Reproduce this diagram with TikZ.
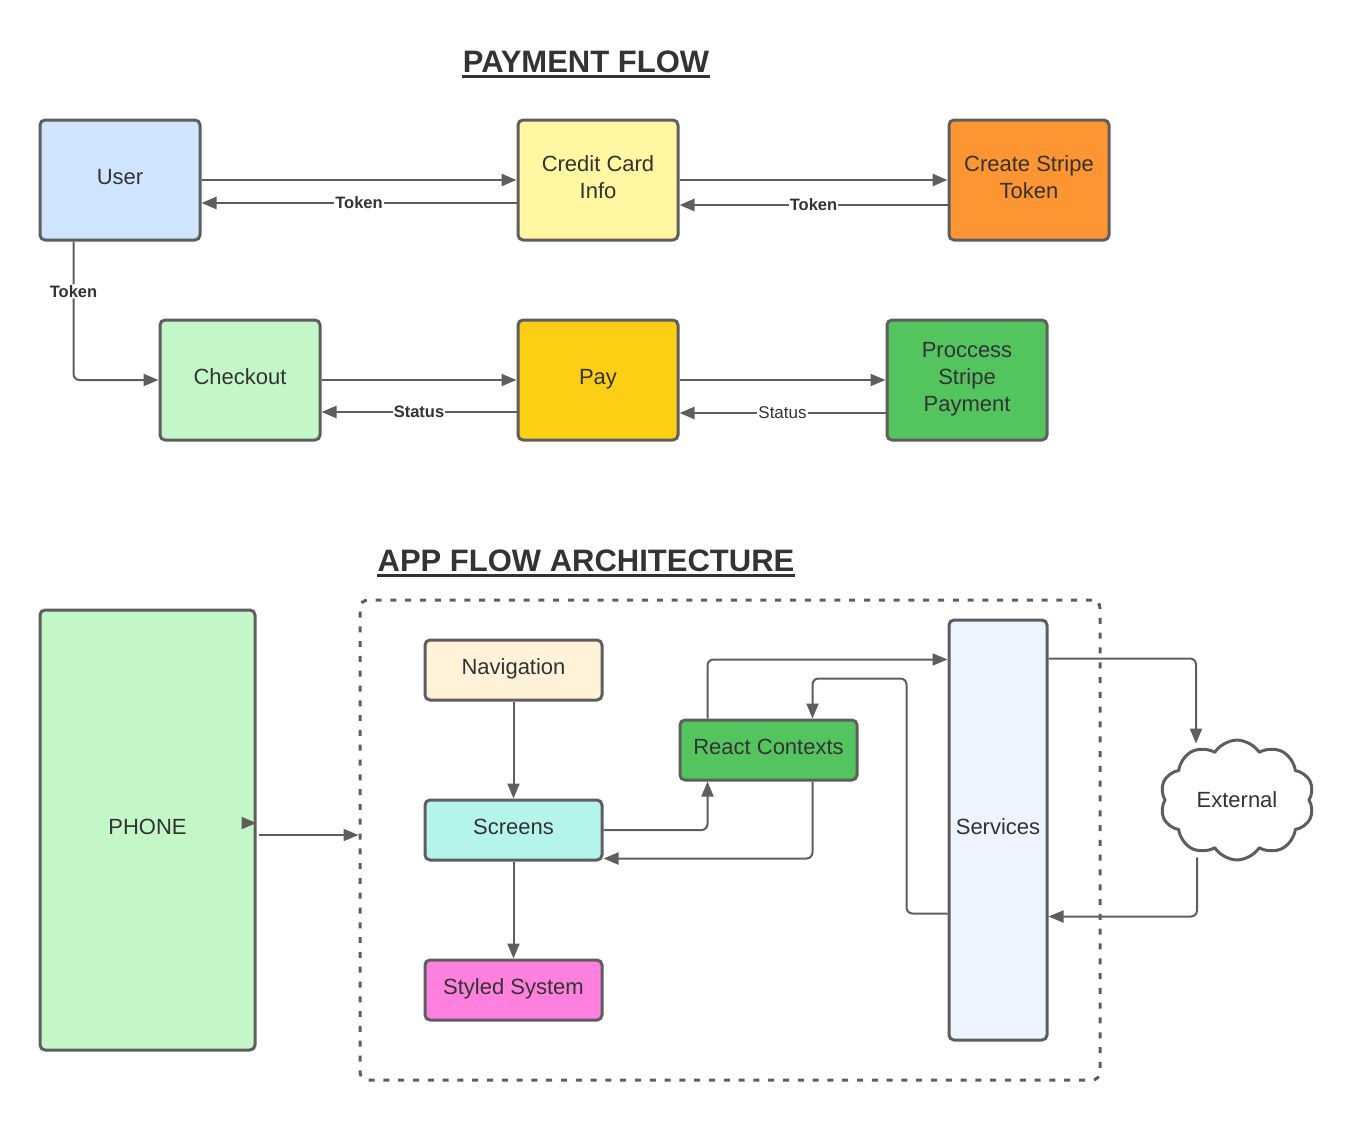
\documentclass[tikz,border=0pt]{standalone}
\usepackage{fontspec}
\setmainfont{Liberation Sans}
\usetikzlibrary{arrows.meta,shapes.symbols}
\definecolor{edge}{HTML}{5E5E5E}
\definecolor{ink}{HTML}{333333}
\definecolor{userblue}{HTML}{CFE4FF}
\definecolor{cardyellow}{HTML}{FFF7A1}
\definecolor{stripeorange}{HTML}{FC9532}
\definecolor{paleGreen}{HTML}{C3F7C8}
\definecolor{payyellow}{HTML}{FCCE14}
\definecolor{darkGreen}{HTML}{54C45E}
\definecolor{navcream}{HTML}{FFF2D9}
\definecolor{screenteal}{HTML}{B4F4EC}
\definecolor{styledpink}{HTML}{FF80DF}
\definecolor{servblue}{HTML}{EDF4FF}
\tikzset{
  box/.style={draw=edge, line width=1.5pt, rounded corners=2.5pt, minimum width=80pt, minimum height=60pt,
    inner sep=2pt, text depth=3pt, align=center, text=ink, font=\fontsize{11}{13.5}\selectfont},
  slim/.style={box, minimum width=88.5pt, minimum height=30pt},
  flow/.style={->, draw=edge, line width=1pt},
  lbl/.style={fill=white, inner sep=0.5pt, text=ink, font=\fontsize{8.25}{10}\selectfont\bfseries},
  plainlbl/.style={lbl, font=\fontsize{8.5}{10}\selectfont},
  heading/.style={inner sep=0pt, text=ink, font=\fontsize{15.5}{18}\selectfont\bfseries},
  underbar/.style={draw=ink, line width=1.5pt, line cap=butt}
}
\begin{document}
\begin{tikzpicture}[x=0.5pt, y=-0.5pt, >={Triangle[length=7.5pt,width=6pt]}, line join=round]
\useasboundingbox (0,0) rectangle (1365,1120);
% payment flow
\node[heading, anchor=base] (payhead) at (586,72) {PAYMENT FLOW};
\draw[underbar] ([yshift=-2pt]payhead.base west) -- ([yshift=-2pt]payhead.base east);
\node[box, fill=userblue] (user) at (120,180) {User};
\node[box, fill=cardyellow] (card) at (598,180) {Credit Card\\Info};
\node[box, fill=stripeorange] (token) at (1029,180) {Create Stripe\\Token};
\node[box, fill=paleGreen] (checkout) at (240,380) {Checkout};
\node[box, fill=payyellow] (pay) at (598,380) {Pay};
\node[box, fill=darkGreen] (process) at (967,380) {Proccess\\Stripe\\Payment};
\draw[flow, line width=1.4pt] (user.east) -- (card.west);
\draw[flow, line width=1.2pt] ([shift={(0,23)}]card.west) -- node[lbl] {Token} ([shift={(0,23)}]user.east);
\draw[flow, line width=1.4pt] (card.east) -- (token.west);
\draw[flow, line width=1.4pt] ([shift={(0,25)}]token.west) -- node[lbl] {Token} ([shift={(0,25)}]card.west -| card.east);
\draw[flow, rounded corners=3pt] ([shift={(35,0)}]user.south west) |- node[lbl, pos=0.18] {Token} (checkout.west);
\draw[flow] (checkout.east) -- (pay.west);
\draw[flow, line width=1.2pt] ([shift={(0,32)}]pay.west) -- node[lbl] {Status} ([shift={(0,32)}]checkout.east);
\draw[flow] (pay.east) -- (process.west);
\draw[flow, line width=1.2pt] ([shift={(0,33)}]process.west) -- node[plainlbl] {Status} ([shift={(0,33)}]pay.east);
% app flow architecture
\node[heading, anchor=base] (apphead) at (586,571) {APP FLOW ARCHITECTURE};
\draw[underbar] ([yshift=-2pt]apphead.base west) -- ([yshift=-2pt]apphead.base east);
\node[draw=edge, line width=1.5pt, dash pattern=on 3pt off 4.4pt, rounded corners=4pt,
  minimum width=370pt, minimum height=240pt] (arch) at (730,840) {};
\node[box, fill=paleGreen, minimum width=107.5pt, minimum height=220pt] (phone) at (147.5,830) {PHONE};
\node[slim, fill=navcream] (nav) at (513.5,670) {Navigation};
\node[slim, fill=screenteal] (screens) at (513.5,830) {Screens};
\node[slim, fill=styledpink] (styled) at (513.5,990) {Styled System};
\node[slim, fill=darkGreen] (react) at (768.5,750) {React Contexts};
\node[box, fill=servblue, minimum width=49pt, minimum height=210pt] (services) at (998,830) {Services};
\node[cloud, draw=edge, line width=1.5pt, fill=white, cloud puffs=10, cloud puff arc=115, aspect=1.3,
  minimum width=77pt, minimum height=59pt, text=ink, font=\fontsize{11}{13.5}\selectfont] (ext) at (1237,800) {External};
\draw[flow] ([shift={(-15,-7)}]phone.east) -- ([shift={(0,-7)}]phone.east);
\draw[flow] ([shift={(2,5)}]phone.east) -- ([shift={(0,-5)}]arch.west);
\draw[flow] (nav) -- (screens);
\draw[flow] (screens) -- (styled);
\draw[flow, rounded corners=3pt] (screens.east) -| ([shift={(29,0)}]react.south west);
\draw[flow, rounded corners=3pt] ([shift={(-46,0)}]react.south east) |- ([shift={(0,-3)}]screens.south east);
\draw[flow, rounded corners=3pt] ([shift={(29,0)}]react.north west) |- ([shift={(0,41)}]services.north west);
\draw[flow, rounded corners=3pt] ([shift={(0,295)}]services.north west) -- ++(-41,0) -- ++(0,-235)
  -| ([shift={(-46,0)}]react.north east);
\draw[flow, rounded corners=3pt] ([shift={(0,40)}]services.north east) -| ([shift={(-41,5)}]ext.north);
\draw[flow, rounded corners=3pt] ([shift={(-40,-4)}]ext.south) |- ([shift={(0,298)}]services.north east);
\end{tikzpicture}
\end{document}
